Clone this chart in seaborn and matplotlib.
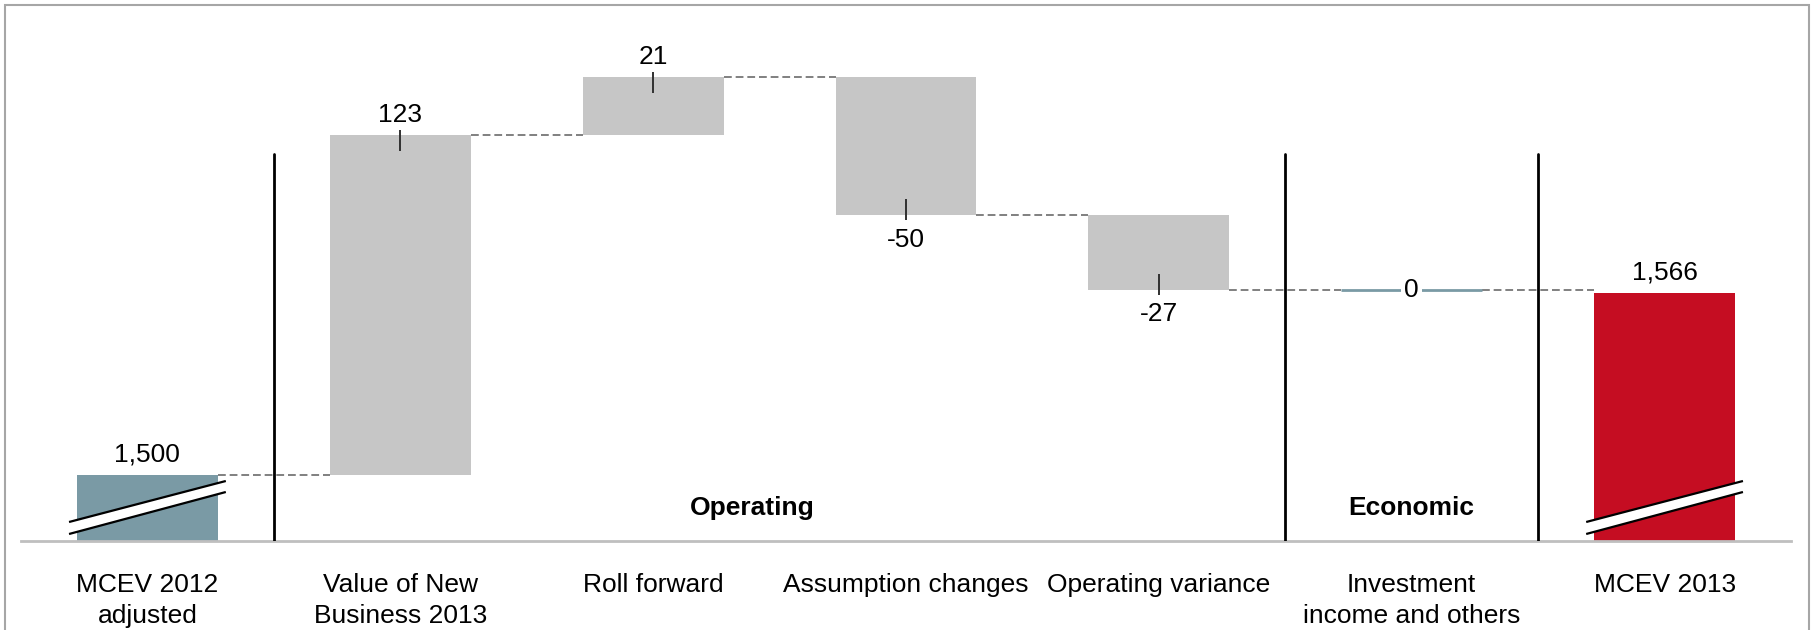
import matplotlib
matplotlib.use("Agg")
import matplotlib.pyplot as plt
import matplotlib.transforms as mtransforms
from matplotlib.patches import Polygon, Rectangle
import seaborn as sns
import pandas as pd

# MCEV bridge 2012 -> 2013
categories = ["MCEV 2012\nadjusted", "Value of New\nBusiness 2013", "Roll forward",
              "Assumption changes", "Operating variance",
              "Investment\nincome and others", "MCEV 2013"]
values = [1500, 123, 21, -50, -27, 0, 1566]
is_total = [True, False, False, False, False, False, True]
value_labels = ["1,500", "123", "21", "-50", "-27", "0", "1,566"]
groups = ["Operating", "Economic"]

TEAL = "#7A9AA5"
GREY = "#C6C6C6"
RED = "#C50D22"
colors = [TEAL, GREY, GREY, GREY, GREY, TEAL, RED]

# floating bar extents
lows, highs, levels = [], [], []
running = 0
for v, tot in zip(values, is_total):
    if tot:
        lo, hi = 0, v
        running = v
    else:
        lo, hi = min(running, running + v), max(running, running + v)
        running += v
    lows.append(lo)
    highs.append(hi)
    levels.append(running)

df = pd.DataFrame({"category": categories, "top": highs})

sns.set_theme(style="white")
plt.rcParams["font.family"] = ["Liberation Sans", "DejaVu Sans"]
plt.rcParams["text.color"] = "black"
plt.rcParams["xtick.color"] = "black"
plt.rcParams["xtick.labelcolor"] = "black"

FS = 19

W, H, DPI = 1813, 630, 100
fig = plt.figure(figsize=(W / DPI, H / DPI), dpi=DPI)
ax = fig.add_axes([21 / W, 89 / H, 1770 / W, 521 / H])

bar_w = 0.557
sns.barplot(data=df, x="category", y="top", hue="category", palette=colors,
            legend=False, width=bar_w, saturation=1, dodge=False, ax=ax)

ymin, ymax = 1476, 1664.8
ax.set_xlim(-0.5, len(categories) - 0.5)
ax.set_ylim(ymin, ymax)

# turn the bars into floating waterfall segments
for i, cont in enumerate(ax.containers):
    for p in cont.patches:
        p.set_y(lows[i])
        p.set_height(highs[i] - lows[i])
        p.set_linewidth(0)

px = (ymax - ymin) / 521.0  # data units per pixel

# zero-change step drawn as a thin line
for i, v in enumerate(values):
    if not is_total[i] and v == 0:
        ax.hlines(levels[i], i - bar_w / 2, i + bar_w / 2, color=TEAL, lw=2, zorder=3)

# dashed connectors between consecutive bars
for i in range(len(values) - 1):
    ax.hlines(levels[i], i + bar_w / 2, i + 1 - bar_w / 2, color="#808080",
              lw=1.4, linestyles=(0, (4, 2)), zorder=2)

# group separators
for xs in [0.5, 4.5, 5.5]:
    ax.axvline(xs, ymin=0, ymax=(541 - 154) / 521, color="black", lw=2, zorder=4)

# value labels with small ticks at the bar end
for i, (v, lab) in enumerate(zip(values, value_labels)):
    if not is_total[i] and v == 0:
        ax.text(i, levels[i], lab, ha="center", va="center", fontsize=FS,
                bbox=dict(facecolor="white", edgecolor="none", pad=2.5), zorder=5)
        continue
    if v >= 0:
        end = highs[i]
        ax.annotate(lab, (i, end), xytext=(0, 14.8), textcoords="offset points",
                    ha="center", va="center", fontsize=FS)
        if not is_total[i]:
            ax.vlines(i, end - 16 * px, end + 5 * px, color="#303030", lw=1.4, zorder=3)
    else:
        end = lows[i]
        ax.annotate(lab, (i, end), xytext=(0, -17.5), textcoords="offset points",
                    ha="center", va="center", fontsize=FS)
        ax.vlines(i, end - 5 * px, end + 16 * px, color="#303030", lw=1.4, zorder=3)

# axis-break marks on the total bars
trans = mtransforms.blended_transform_factory(ax.transData, ax.transAxes)
for i, tot in enumerate(is_total):
    if not tot:
        continue
    x0, x1 = i - 0.31, i + 0.31
    up = (19 / 521, 60 / 521)
    lo = (7 / 521, 49 / 521)
    band = Polygon([(x0, lo[0]), (x1, lo[1]), (x1, up[1]), (x0, up[0])],
                   closed=True, facecolor="white", edgecolor="none",
                   transform=trans, zorder=5, clip_on=False)
    ax.add_patch(band)
    ax.plot([x0, x1], [up[0], up[1]], color="black", lw=1.6, transform=trans,
            zorder=6, solid_capstyle="butt")
    ax.plot([x0, x1], [lo[0], lo[1]], color="black", lw=1.6, transform=trans,
            zorder=6, solid_capstyle="butt")

# group captions
ax.text(2.39, 0.063, groups[0], transform=trans, ha="center", va="center",
        fontsize=FS, fontweight="bold")
ax.text(5, 0.063, groups[1], transform=trans, ha="center", va="center",
        fontsize=FS, fontweight="bold")

# axes styling
for s in ["top", "right", "left"]:
    ax.spines[s].set_visible(False)
ax.spines["bottom"].set_color("#BFBFBF")
ax.spines["bottom"].set_linewidth(2)
ax.set_yticks([])
ax.set_xlabel("")
ax.set_ylabel("")
ax.tick_params(axis="x", length=0, pad=23, labelsize=FS)
for t in ax.get_xticklabels():
    t.set_linespacing(1.36)

# outer frame
fig.patches.append(Rectangle((5 / W, -0.2), (1809 - 5) / W, 0.2 + 625 / H,
                             transform=fig.transFigure, facecolor="none",
                             edgecolor="#A6A6A6", lw=1.5, zorder=0))

fig.savefig("out.png", dpi=DPI)
